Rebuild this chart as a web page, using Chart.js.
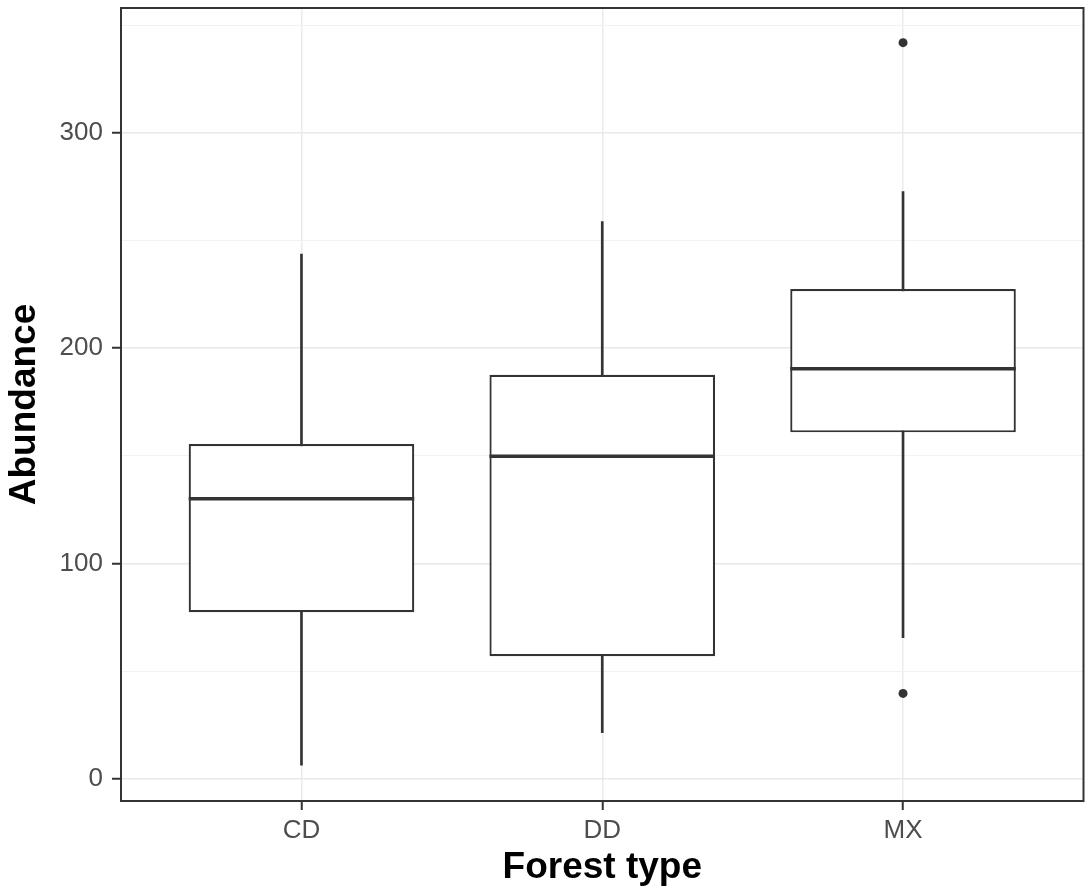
<!DOCTYPE html>
<html>
<head>
<meta charset="utf-8">
<script src="https://cdn.jsdelivr.net/npm/chart.js@4/dist/chart.umd.min.js"></script>
<style>
  body { margin: 0; background: #fff; }
  #wrap { width: 1088px; height: 893px; }
</style>
</head>
<body>
<div id="wrap"><canvas id="boxChart"></canvas></div>
<script>
// data
var forestTypes = ["CD", "DD", "MX"];
var whiskerLow  = [6.3, 21.4, 65.5];
var quartile1   = [77.3, 56.9, 160.9];
var medians     = [130.1, 149.8, 190.5];
var quartile3   = [155.5, 187.7, 227.5];
var whiskerHigh = [243.8, 258.9, 272.8];
var outlierType = ["MX", "MX"];
var outlierVals = [342, 39.6];
var yTicks      = [0, 100, 200, 300];

var boxWidth = 0.75;
var ink = "#333333";

// BOX PIECES ################################################################

var whiskerData = forestTypes.map(function (t, i) {
    return { x: i + 1, y: [whiskerLow[i], whiskerHigh[i]] };
});
var boxData = forestTypes.map(function (t, i) {
    return { x: i + 1, y: [quartile1[i], quartile3[i]] };
});
var medianData = [];
forestTypes.forEach(function (t, i) {
    medianData.push({ x: i + 1 - boxWidth / 2, y: medians[i] });
    medianData.push({ x: i + 1 + boxWidth / 2, y: medians[i] });
    medianData.push({ x: i + 1.5, y: null });
});
var outlierData = outlierType.map(function (t, i) {
    return { x: forestTypes.indexOf(t) + 1, y: outlierVals[i] };
});

// frame round the plot panel
var framePlugin = {
    id: "frame",
    afterDraw: function (chart) {
        var a = chart.chartArea;
        var ctx = chart.ctx;
        ctx.save();
        ctx.strokeStyle = ink;
        ctx.lineWidth = 2;
        ctx.strokeRect(a.left, a.top, a.right - a.left, a.bottom - a.top);
        ctx.restore();
    }
};

var font = "'Liberation Sans', Arial, sans-serif";

var myBoxChart = new Chart(document.getElementById("boxChart"), {
    type: "bar",
    data: {
        datasets: [
            {
                type: "line",
                data: outlierData,
                showLine: false,
                pointRadius: 4.5,
                pointBackgroundColor: ink,
                pointBorderWidth: 0,
                order: 0
            },
            {
                type: "line",
                data: medianData,
                borderColor: ink,
                borderWidth: 3.5,
                pointRadius: 0,
                spanGaps: false,
                order: 1
            },
            {
                data: boxData,
                backgroundColor: "#ffffff",
                borderColor: ink,
                borderWidth: 2.2,
                borderSkipped: false,
                grouped: false,
                categoryPercentage: 1,
                barPercentage: boxWidth,
                order: 2
            },
            {
                data: whiskerData,
                backgroundColor: ink,
                borderWidth: 0,
                grouped: false,
                barThickness: 2,
                order: 3
            }
        ]
    },
    options: {
        responsive: true,
        maintainAspectRatio: false,
        animation: false,
        layout: { padding: { top: 8, right: 2, left: 0, bottom: 0 } },
        plugins: {
            legend: { display: false },
            tooltip: { enabled: false }
        },
        scales: {
            x: {
                type: "linear",
                min: 0.4,
                max: 3.6,
                offset: false,
                afterBuildTicks: function (scale) {
                    scale.ticks = forestTypes.map(function (t, i) { return { value: i + 1 }; });
                },
                afterFit: function (scale) {
                    scale.height = 92;
                    scale.paddingLeft = 0;
                    scale.paddingRight = 0;
                },
                ticks: {
                    callback: function (v) { return forestTypes[v - 1]; },
                    color: "#4d4d4d",
                    font: { family: font, size: 26 },
                    padding: 5,
                    maxRotation: 0
                },
                grid: {
                    offset: false,
                    color: "#ebebeb",
                    lineWidth: 1.5,
                    tickColor: ink,
                    tickLength: 9,
                    tickWidth: 2
                },
                border: { display: false },
                title: {
                    display: true,
                    text: "Forest type",
                    color: "#000",
                    font: { family: font, size: 37, weight: "bold" },
                    padding: { top: 0, bottom: 3 }
                }
            },
            y: {
                min: -10.4,
                max: 358.1,
                afterFit: function (scale) {
                    scale.width = 121;
                    scale.paddingTop = 0;
                    scale.paddingBottom = 0;
                },
                ticks: {
                    stepSize: 50,
                    includeBounds: false,
                    callback: function (v) { return yTicks.indexOf(v) >= 0 ? v : ""; },
                    color: "#4d4d4d",
                    font: { family: font, size: 26 },
                    padding: 9
                },
                grid: {
                    color: function (c) { return c.tick && c.tick.value % 100 === 0 ? "#e8e8e8" : "#f2f2f2"; },
                    lineWidth: function (c) { return c.tick && c.tick.value % 100 === 0 ? 1.5 : 1; },
                    tickColor: function (c) { return c.tick && c.tick.value % 100 === 0 ? ink : "rgba(0,0,0,0)"; },
                    tickLength: 9,
                    tickWidth: 2
                },
                border: { display: false },
                title: {
                    display: true,
                    text: "Abundance",
                    color: "#000",
                    font: { family: font, size: 37, weight: "bold" },
                    padding: { top: 3, bottom: 0 }
                }
            }
        }
    },
    plugins: [framePlugin]
});
</script>
</body>
</html>
